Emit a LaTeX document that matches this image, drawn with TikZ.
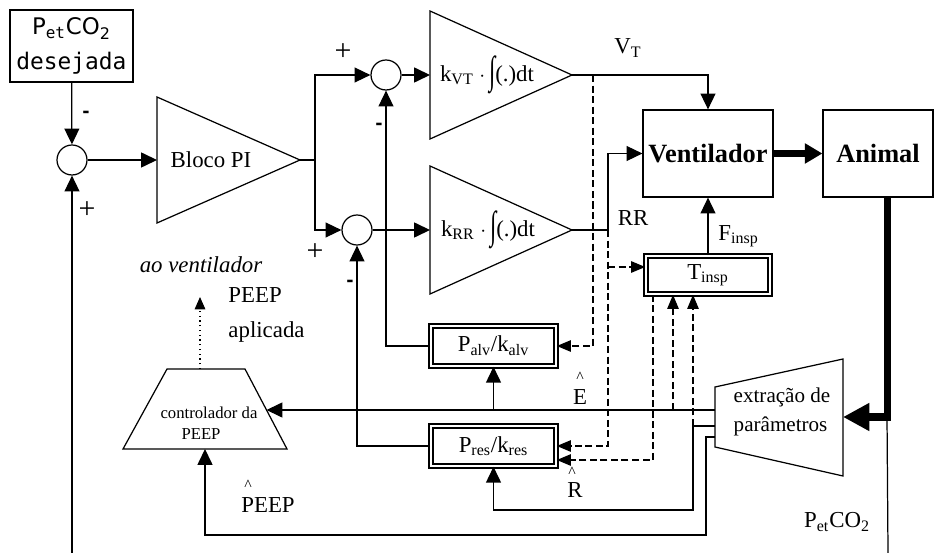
\documentclass[tikz,border=0pt]{standalone}
\usepackage{fontspec}
\usepackage{graphicx}
\setmainfont{Liberation Serif}
\setsansfont{DejaVu Sans}
\setmonofont{DejaVu Sans Mono}
\usetikzlibrary{arrows.meta}

\newcommand{\integ}{\raisebox{-0.25ex}{\scalebox{1}[1.7]{∫}}}

\begin{document}
\begin{tikzpicture}[x=0.02cm, y=-0.02cm, line width=0.7pt,
        font=\fontsize{13}{15}\selectfont,
        blk/.style={draw, inner sep=0},
        dblk/.style={draw, double, double distance=1.5pt, line width=0.9pt, inner sep=0,
            minimum width=2.5cm, minimum height=0.8cm},
        soma/.style={draw, circle, minimum size=0.6cm, inner sep=0},
        seta/.style={-{Triangle[length=9pt,width=8.5pt]}},
        setad/.style={dash pattern=on 4pt off 2pt, -{Triangle[length=8pt,width=6.5pt]}},
        grossa/.style={line width=4pt},
        sinal/.style={inner sep=0},
        mais/.style={inner sep=0, font=\fontsize{17}{17}\selectfont},
        chapeu/.style={anchor=north, inner sep=0, font=\fontsize{9}{9}\selectfont},
    ]
        \useasboundingbox (0,0) rectangle (935,553);

        % 设定值
        \node[blk, minimum width=2.46cm, minimum height=1.44cm, align=center,
            font=\fontsize{13}{20}\selectfont] (setp) at (71.5,46)
            {{\sffamily P\textsubscript{\ttfamily et}CO\textsubscript{2}}\\{\ttfamily desejada}};
        \node[soma] (s1) at (72,160) {};
        \node[sinal, font=\sffamily\bfseries] (m1) at (86,114) {-};
        \node[mais] (p1) at (87,210) {+};
        \draw[seta] (setp) -- (s1);
        \coordinate (lbot) at (72,553);
        \draw[seta] (lbot) -- (s1);

        % Bloco PI
        \draw (157,97) -- (300,160) -- (157,223) -- cycle;
        \coordinate (piin) at (157,160);
        \coordinate (piout) at (300,160);
        \node (pi) at (211,160) {Bloco PI};
        \draw[seta] (s1) -- (piin);

        % 积分器
        \draw (430,11) -- (572,75) -- (430,139) -- cycle;
        \draw (430,166) -- (572,230) -- (430,294) -- cycle;
        \coordinate (kvtin) at (430,75);
        \coordinate (kvtout) at (572,75);
        \coordinate (krrin) at (430,230);
        \coordinate (krrout) at (572,230);
        \node (kvt) at (487,75) {k\textsubscript{VT} $\cdot$\,\integ(.)dt};
        \node (krr) at (488,230) {k\textsubscript{RR} $\cdot$\,\integ(.)dt};

        \node[soma] (svt) at (386,75) {};
        \node[soma] (srr) at (357,230) {};
        \node[mais] (p2) at (343,52) {+};
        \node[mais] (p3) at (315,252) {+};
        \node[sinal, font=\sffamily\bfseries] (m2) at (379,126) {-};
        \node[sinal, font=\sffamily\bfseries] (m3) at (350,283) {-};

        \coordinate (sp) at (315,160);
        \draw (piout) -- (sp);
        \draw[seta] (sp) |- (svt);
        \draw[seta] (sp) |- (srr);
        \draw[seta] (svt) -- (kvtin);
        \draw[seta] (srr) -- (krrin);

        % 呼吸机 / 动物
        \node[blk, minimum width=2.6cm, minimum height=1.74cm,
            font=\fontsize{15}{15}\selectfont\bfseries] (vent) at (708,153.5) {Ventilador};
        \node[blk, minimum width=2.2cm, minimum height=1.74cm,
            font=\fontsize{15}{15}\selectfont\bfseries] (ani) at (878,153.5) {Animal};
        \draw[grossa, -{Triangle[length=10pt,width=11pt]}] (vent) -- (ani);

        \draw[seta] (kvtout) -| (vent.north);
        \coordinate (rrs) at (608,230);
        \draw[seta] (krrout) -- (rrs) |- (vent.west);
        \node (vt) at (628,48) {V\textsubscript{T}};
        \node (rr) at (633,218) {RR};

        \node[dblk, minimum width=2.48cm, minimum height=0.76cm] (tinsp) at (708,275) {T\textsubscript{insp}};
        \draw[seta] (tinsp) -- (vent);
        \node[anchor=west] (fi) at (712,236) {F\textsubscript{insp}};

        \node[dblk] (palv) at (493.5,346) {P\textsubscript{alv}/k\textsubscript{alv}};
        \node[dblk] (pres) at (493.5,446) {P\textsubscript{res}/k\textsubscript{res}};
        \draw[seta] (palv.west) -| (svt.south);
        \draw[seta] (pres.west) -| (srr.south);

        % 虚线
        \coordinate (vts) at (593,75);
        \draw[setad] (vts) |- (palv.east);
        \draw[setad] (rrs) |- (pres.east);
        \coordinate (rrt) at (608,267);
        \draw[setad] (rrt) -- (rrt -| tinsp.west);
        \coordinate (td) at (653,460);
        \draw[setad] (td |- tinsp.south) -- (td) -- (td -| pres.east);

        % 参数提取
        \draw (715,387) -- (843,359) -- (843,476) -- (715,447) -- cycle;
        \node[align=left, font=\fontsize{12}{16.4}\selectfont] (ext) at (782,412) {extração de\\parâmetros};
        \coordinate (exte) at (715,410);
        \coordinate (extr) at (715,426);
        \coordinate (extp) at (715,437);
        \coordinate (extin) at (843,417);

        % PEEP 控制器
        \draw (167,369) -- (245,369) -- (287,449) -- (123,449) -- cycle;
        \coordinate (ctin) at (266.5,410);
        \coordinate (ctb) at (205,449);
        \coordinate (ctt) at (200,369);
        \node[font=\fontsize{9.5}{11}\selectfont] (ct1) at (209,413) {controlador da};
        \node[font=\fontsize{9.5}{11}\selectfont] (ct2) at (201,434) {PEEP};
        \coordinate (ao) at (200,297);
        \draw[dotted, -{Triangle[length=7pt,width=6pt]}] (ctt) -- (ao);
        \node (aov) at (201,265) {\itshape ao ventilador};
        \node[align=left, anchor=west, font=\fontsize{13}{19.8}\selectfont] (peepap) at (222,315) {PEEP\\aplicada};

        \draw[seta] (exte) -- (ctin);
        \draw[seta] (palv.south |- exte) -- (palv.south);
        \coordinate (ed) at (673,410);
        \draw[setad] (ed) -- (ed |- tinsp.south);
        \coordinate (rd) at (693,510);
        \draw[seta] (extr) -| (rd) -| (pres.south);
        \coordinate (rdt) at (693,426);
        \draw[setad] (rdt) -- (rdt |- tinsp.south);
        \coordinate (pd) at (706,535);
        \draw[seta] (extp) -| (pd) -| (ctb);

        \node[chapeu] (ec) at (580,372) {\textasciicircum};
        \node (eh) at (580,397) {E};
        \node[chapeu] (rc) at (572,467) {\textasciicircum};
        \node (rh) at (575,490) {R};
        \node[chapeu] (pc) at (248,480) {\textasciicircum};
        \node (ph) at (268,505) {PEEP};

        % PetCO2
        \coordinate (pco) at (887,417);
        \draw[grossa, -{Triangle[length=15pt,width=15pt]}] (pco |- ani.south) -- (pco) -- (extin);
        \coordinate (pbot) at (888,553);
        \draw (pco) -- (pbot);
        \node (pet) at (837,522) {P\textsubscript{et}CO\textsubscript{2}};
    \end{tikzpicture}
\end{document}
